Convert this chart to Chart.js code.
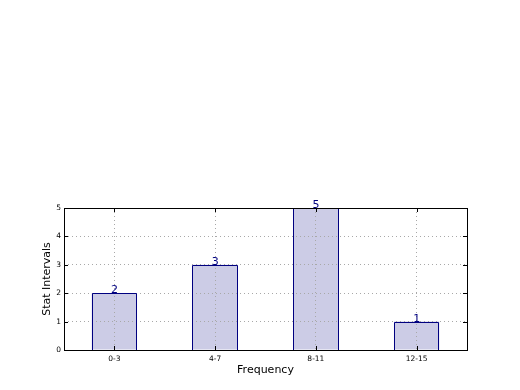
<!DOCTYPE html>
<html>
<head>
<meta charset="utf-8">
<script src="https://cdn.jsdelivr.net/npm/chart.js@4.4.0/dist/chart.umd.min.js"></script>
<style>
  html, body { margin: 0; padding: 0; background: #fff; }
  #wrap { width: 520px; height: 390px; }
</style>
</head>
<body>
<div id="wrap"><canvas id="statChart" width="520" height="390"></canvas></div>
<script>
// ----- データ -----
const intervals = ['0-3', '4-7', '8-11', '12-15'];
const counts = [2, 3, 5, 1];
const yTicks = [0, 1, 2, 3, 4, 5];

const FONT = "'DejaVu Sans', sans-serif";

// 枠線・内向きの目盛り・値ラベル（グリッドの後に描く）
const frameAndTicks = {
    id: 'frameAndTicks',
    afterDraw(chart) {
        const ctx = chart.ctx;
        const a = chart.chartArea;
        const xs = chart.scales.x;
        const ys = chart.scales.y;
        const meta = chart.getDatasetMeta(0);
        ctx.save();
        ctx.setLineDash([]);

        // 棒の枠線をグリッドの上からもう一度引く
        ctx.strokeStyle = '#000080';
        ctx.lineWidth = 1;
        meta.data.forEach(bar => {
            const l = Math.round(bar.x - bar.width / 2) + 0.5;
            const r = Math.round(bar.x + bar.width / 2) - 0.5;
            const t = Math.round(bar.y) + 0.5;
            const b = Math.round(bar.base);
            ctx.beginPath();
            ctx.moveTo(l, b); ctx.lineTo(l, t); ctx.lineTo(r, t); ctx.lineTo(r, b);
            ctx.stroke();
        });

        ctx.strokeStyle = '#000';
        ctx.beginPath();
        xs.ticks.forEach((t, i) => {
            const x = Math.round(xs.getPixelForTick(i)) + 0.5;
            ctx.moveTo(x, a.bottom); ctx.lineTo(x, a.bottom - 4);
            ctx.moveTo(x, a.top); ctx.lineTo(x, a.top + 4);
        });
        ys.ticks.forEach((t, i) => {
            const y = Math.round(ys.getPixelForTick(i)) + 0.5;
            ctx.moveTo(a.left, y); ctx.lineTo(a.left + 4, y);
            ctx.moveTo(a.right, y); ctx.lineTo(a.right - 4, y);
        });
        ctx.stroke();
        ctx.strokeRect(Math.round(a.left) + 0.5, Math.round(a.top) + 0.5,
            Math.round(a.right - a.left), Math.round(a.bottom - a.top));

        // 棒の上に値を表示
        ctx.fillStyle = '#000080';
        ctx.font = '11px ' + FONT;
        ctx.textAlign = 'center';
        ctx.textBaseline = 'alphabetic';
        meta.data.forEach((bar, i) => {
            ctx.fillText(String(counts[i]), bar.x, bar.y);
        });
        ctx.restore();
    }
};

new Chart(document.getElementById('statChart'), {
    type: 'bar',
    data: {
        labels: intervals,
        datasets: [{
            data: counts,
            backgroundColor: 'rgb(204, 204, 230)',
            borderColor: '#000080',
            borderWidth: 0,
            barPercentage: 0.45,
            categoryPercentage: 1.0
        }]
    },
    options: {
        responsive: false,
        animation: false,
        layout: { padding: { top: 208, right: 53, left: 0, bottom: 0 } },
        plugins: { legend: { display: false }, tooltip: { enabled: false } },
        scales: {
            x: {
                offset: true,
                afterFit(scale) { scale.height = 40; },
                grid: {
                    z: 1,
                    offset: false,
                    color: '#a8a8a8',
                    lineWidth: 1,
                    drawTicks: false
                },
                border: { display: false, dash: [1, 3] },
                ticks: { color: '#000', font: { family: FONT, size: 7.5 }, padding: 5 },
                title: {
                    display: true,
                    text: 'Frequency',
                    color: '#000',
                    font: { family: FONT, size: 11 },
                    padding: { top: 0, bottom: 13 }
                }
            },
            y: {
                min: 0,
                max: 5,
                afterFit(scale) { scale.width = 64; },
                afterBuildTicks(scale) { scale.ticks = yTicks.map(v => ({ value: v })); },
                grid: {
                    z: 1,
                    color: '#a8a8a8',
                    lineWidth: 1,
                    drawTicks: false
                },
                border: { display: false, dash: [1, 3] },
                ticks: { color: '#000', font: { family: FONT, size: 7.5 }, padding: 3 },
                title: {
                    display: true,
                    text: 'Stat Intervals',
                    color: '#000',
                    font: { family: FONT, size: 11 },
                    padding: { top: 41, bottom: 0 }
                }
            }
        }
    },
    plugins: [frameAndTicks]
});
</script>
</body>
</html>
